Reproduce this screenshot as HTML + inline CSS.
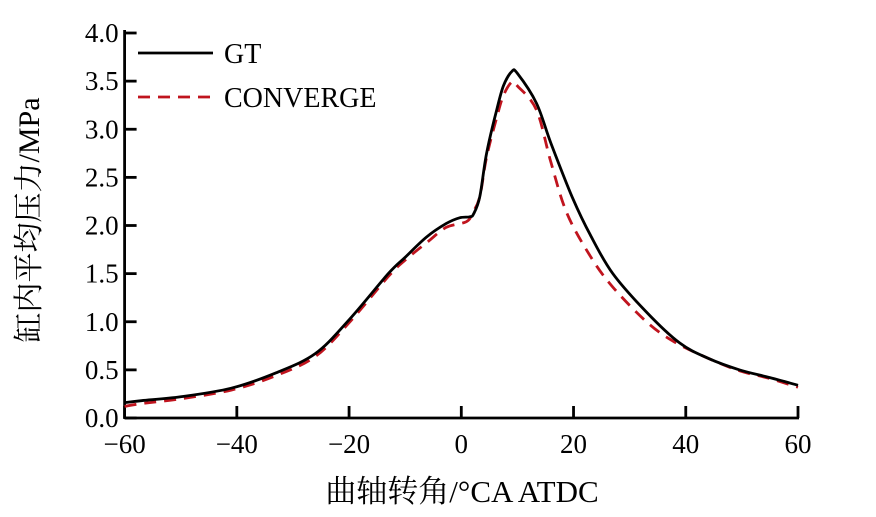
<!DOCTYPE html>
<html><head><meta charset="utf-8"><style>
body{margin:0;background:#fff;}
svg{display:block;font-family:"Liberation Serif","Noto Serif CJK SC",serif;}
</style></head><body>
<svg id="chart" width="876" height="517" viewBox="0 0 876 517">
<g id="axes"></g>
<g id="series"></g>
<g id="legend">
<line x1="138" y1="53" x2="213" y2="53" stroke="#000" stroke-width="2.8"/>
<text x="224" y="63" font-size="28">GT</text>
<line x1="138" y1="97" x2="213" y2="97" stroke="#c0141e" stroke-width="2.8" stroke-dasharray="12,8"/>
<text x="224" y="107" font-size="28">CONVERGE</text>
</g>
<text x="462" y="502" font-size="31" text-anchor="middle">曲轴转角/°CA ATDC</text>
<text transform="translate(39,220) rotate(-90)" font-size="30" text-anchor="middle">缸内平均压力/MPa</text>
</svg>
<script>
const xTicks=[-60,-40,-20,0,20,40,60];
const yTicks=[0,0.5,1,1.5,2,2.5,3,3.5,4];
const yTickLabels=["0.0","0.5","1.0","1.5","2.0","2.5","3.0","3.5","4.0"];
const gtX=[-60,-57,-50,-41,-33,-26,-20,-13,-10,-6.2,-2.7,-0.3,1.5,2.2,3.3,4.5,6.3,7.5,9,10,13.4,16,19.8,23,27,33,38.9,44,49.6,55,60];
const gtY=[0.16,0.18,0.22,0.31,0.47,0.67,1.02,1.5,1.67,1.88,2.02,2.08,2.09,2.12,2.3,2.75,3.2,3.45,3.6,3.58,3.27,2.85,2.29,1.9,1.5,1.1,0.78,0.62,0.5,0.42,0.34];
const cvX=[-60,-57,-50,-41,-33,-26,-20,-13,-10,-6,-2.7,0.9,2,3.3,4.5,6.3,7.5,9,10,13.4,16,18.8,23,27,33,37.7,44,49.6,55,60];
const cvY=[0.12,0.15,0.2,0.29,0.44,0.64,0.99,1.47,1.64,1.83,1.98,2.04,2.13,2.3,2.71,3.12,3.35,3.49,3.45,3.2,2.65,2.13,1.68,1.36,1.0,0.8,0.62,0.49,0.41,0.32];
const X0=124.6,X1=798,Y0=418,Y1=33;
const sx=v=>X0+(v+60)/120*(X1-X0);
const sy=v=>Y0-v/4*(Y0-Y1);
const NS="http://www.w3.org/2000/svg";
function mk(t,a,p){const e=document.createElementNS(NS,t);for(const k in a)e.setAttribute(k,a[k]);p.appendChild(e);return e;}
const ax=document.getElementById('axes');
let e=mk('line',{x1:X0,y1:Y0,x2:X1+1,y2:Y0,stroke:'#000','stroke-width':2.8},ax);


e=mk('line',{x1:X0,y1:Y0+1,x2:X0,y2:Y1-3,stroke:'#000','stroke-width':2.8},ax);


xTicks.forEach(t=>{
 const x=sx(t);
 let l=mk('line',{x1:x,y1:Y0,x2:x,y2:Y0-12,stroke:'#000','stroke-width':2.8},ax);
 
 
 let s=mk('text',{x:x,y:Y0+35,'font-size':27,'text-anchor':'middle'},ax);
 s.textContent=(t<0?'\u2212'+(-t):String(t));
 
 
});
yTicks.forEach((t,i)=>{
 const y=sy(t);
 let l=mk('line',{x1:X0,y1:y,x2:X0+12,y2:y,stroke:'#000','stroke-width':2.8},ax);
 
 
 let s=mk('text',{x:X0-6,y:y+9,'font-size':27,'text-anchor':'end'},ax);
 s.textContent=yTickLabels[i];
 
 
});
const sr=document.getElementById('series');
function path(xs,ys){
 const P=xs.map((v,i)=>[sx(v),sy(ys[i])]);
 let d='M'+P[0][0].toFixed(1)+','+P[0][1].toFixed(1);
 for(let i=0;i<P.length-1;i++){
  const p0=P[Math.max(0,i-1)],p1=P[i],p2=P[i+1],p3=P[Math.min(P.length-1,i+2)];
  const c1=[p1[0]+(p2[0]-p0[0])/6,p1[1]+(p2[1]-p0[1])/6];
  const c2=[p2[0]-(p3[0]-p1[0])/6,p2[1]-(p3[1]-p1[1])/6];
  d+=' C'+c1.map(n=>n.toFixed(1)).join(',')+' '+c2.map(n=>n.toFixed(1)).join(',')+' '+p2.map(n=>n.toFixed(1)).join(',');
 }
 return d;
}
let p=mk('path',{d:path(cvX,cvY),fill:'none',stroke:'#c0141e','stroke-width':2.8,'stroke-dasharray':'12,8','stroke-linejoin':'round'},sr);


p=mk('path',{d:path(gtX,gtY),fill:'none',stroke:'#000','stroke-width':2.8,'stroke-linejoin':'round'},sr);


</script>
</body></html>
